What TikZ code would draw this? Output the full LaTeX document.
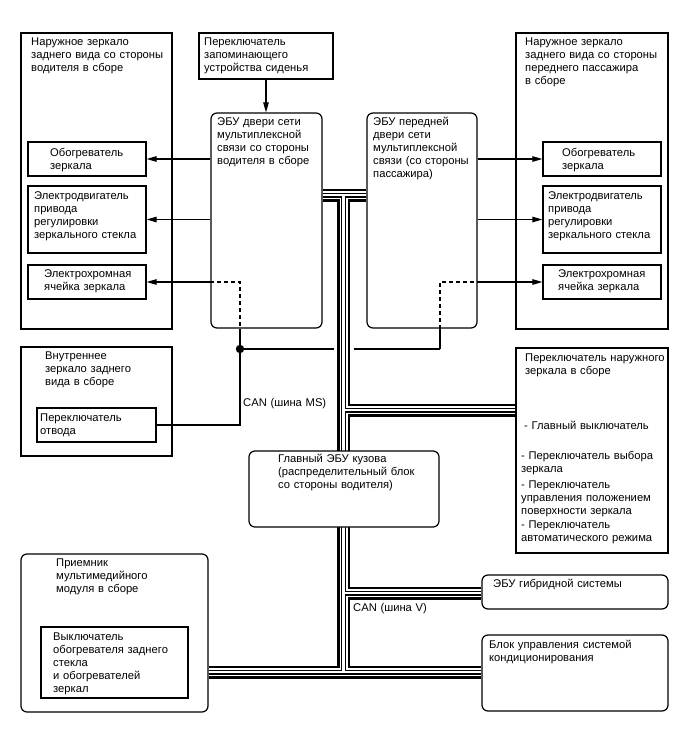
\documentclass[tikz,border=0pt]{standalone}
\usepackage{fontspec}
\setmainfont{Liberation Sans}
\usetikzlibrary{arrows.meta,fit}
\pgfdeclarelayer{bg}
\pgfsetlayers{bg,main}
\begin{document}
\begin{tikzpicture}[x=1pt,y=-1pt,
  box/.style={draw, line width=1.2pt, inner sep=0pt},
  rbox/.style={box, rounded corners=6pt},
  txt/.style={anchor=base west, inner sep=0pt, text width=200pt, align=left, font=\fontsize{11.2}{13}\selectfont},
  arr/.style={line width=1.1pt, -{Triangle[length=10pt,width=5.5pt]}},
  wire/.style={line width=1.1pt},
  dwire/.style={line width=1.1pt, dash pattern=on 4pt off 3pt}]
\useasboundingbox (0,0) rectangle (688,755);

% boxes
\node[box, fit={(21,33) (172,329)}] (drvM) {};
\node[box, fit={(199,33) (333,79)}] (seat) {};
\node[rbox, fit={(211,113) (322,328)}] (ecuL) {};
\node[box, fit={(28,142) (146,176)}] (heatL) {};
\node[box, fit={(28,186) (146,253)}] (motL) {};
\node[box, fit={(28,265) (146,299)}] (elL) {};
\node[rbox, fit={(367,113) (477,328)}] (ecuR) {};
\node[box, fit={(516,33) (668,329)}] (passM) {};
\node[box, fit={(543,142) (661,176)}] (heatR) {};
\node[box, fit={(543,186) (661,253)}] (motR) {};
\node[box, fit={(543,265) (661,299)}] (elR) {};
\node[box, fit={(21,347) (172,456)}] (inner) {};
\node[box, fit={(37,408) (156,442)}] (sw) {};
\node[rbox, fill=white, fit={(249,451) (439,527)}] (mainE) {};
\node[box, fit={(516,348) (668,553)}] (msw) {};
\node[rbox, fit={(21,554) (208,712)}] (mm) {};
\node[box, fit={(41,627) (188,698)}] (def) {};
\node[rbox, fit={(482,575) (668,609)}] (hyb) {};
\node[rbox, fit={(482,635) (668,711)}] (ac) {};

% helper coordinates
\coordinate (ty) at (0,195);
\coordinate (ry) at (0,410);
\coordinate (hy) at (0,593);
\coordinate (by) at (0,672);
\coordinate (tr) at (343.5,0);
\coordinate (bA) at (ecuL.east |- ty);
\coordinate (bB) at (ecuR.west |- ty);
\coordinate (t1) at (tr |- ty);
\coordinate (t2) at (tr |- by);
\coordinate (r1) at (tr |- ry);
\coordinate (r2) at (msw.west |- ry);
\coordinate (h1) at (tr |- hy);
\coordinate (h2) at (hyb.west |- hy);
\coordinate (m1) at (mm.east |- by);
\coordinate (m2) at (ac.west |- by);
\coordinate (jd) at (240,349);
\coordinate (jr) at (440,349);

\begin{pgfonlayer}{bg}
  \draw[dwire] (ecuL.west |- elL.east) -| (jd |- ecuL.south);
  \draw[wire] (jd |- ecuL.south) -- (jd);
  \draw[wire] (jd) -- (jr);
  \draw[wire] (jr) -- (jr |- ecuR.south);
  \draw[dwire] (jr |- ecuR.south) |- (ecuR.east |- elR.west);
  \draw[wire] (jd) |- (sw.east);
  \fill (jd) circle (4.2);
  \foreach \w/\c in {20/white,13/black,8/white,5/black,2.5/white}{
    \draw[line width=\w pt, draw=\c] (bA) -- (bB) (t1) -- (t2) (r1) -- (r2) (h1) -- (h2) (m1) -- (m2);
  }
\end{pgfonlayer}

% arrows
\draw[arr] (seat.south) -- (ecuL.north -| seat.south);
\draw[arr] (ecuL.west |- heatL.east) -- (heatL.east);
\draw[arr] (ecuL.west |- motL.east) -- (motL.east);
\draw[arr] (ecuL.west |- elL.east) -- (elL.east);
\draw[arr] (ecuR.east |- heatR.west) -- (heatR.west);
\draw[arr] (ecuR.east |- motR.west) -- (motR.west);
\draw[arr] (ecuR.east |- elR.west) -- (elR.west);

% texts
\node[txt] (tDrv) at (31,45) {Наружное зеркало\\заднего вида со стороны\\водителя в сборе};
\node[txt] (tSeat) at (204,45) {Переключатель\\запоминающего\\устройства сиденья};
\node[txt] (tEcuL) at (217,125) {ЭБУ двери сети\\мультиплексной\\связи со стороны\\водителя в сборе};
\node[txt] (tHeatL) at (50,156) {Обогреватель\\зеркала};
\node[txt] (tMotL) at (34,199) {Электродвигатель\\привода\\регулировки\\зеркального стекла};
\node[txt] (tElL) at (44,277) {Электрохромная\\ячейка зеркала};
\node[txt] (tEcuR) at (373,125) {ЭБУ передней\\двери сети\\мультиплексной\\связи (со стороны\\пассажира)};
\node[txt] (tPass) at (525,45) {Наружное зеркало\\заднего вида со стороны\\переднего пассажира\\в сборе};
\node[txt] (tHeatR) at (562,156) {Обогреватель\\зеркала};
\node[txt] (tMotR) at (548,199) {Электродвигатель\\привода\\регулировки\\зеркального стекла};
\node[txt] (tElR) at (558,277) {Электрохромная\\ячейка зеркала};
\node[txt] (tInner) at (45,359) {Внутреннее\\зеркало заднего\\вида в сборе};
\node[txt] (tSw) at (40,421) {Переключатель\\отвода};
\node[txt] (tCanMS) at (243,406) {CAN (шина MS)};
\node[txt] (tMain) at (278,462) {Главный ЭБУ кузова\\(распределительный блок\\со стороны водителя)};
\node[txt] (tMsw1) at (525,361) {Переключатель наружного\\зеркала в сборе};
\node[txt] (tMsw2) at (524,429) {- Главный выключатель};
\node[txt] (tMsw3) at (521,459) {- Переключатель выбора\\зеркала};
\node[txt] (tMsw4) at (521,488) {- Переключатель\\управления положением\\поверхности зеркала};
\node[txt] (tMsw5) at (521,528) {- Переключатель\\автоматического режима};
\node[txt] (tMM) at (56,566) {Приемник\\мультимедийного\\модуля в сборе};
\node[txt] (tDef) at (53,640) {Выключатель\\обогревателя заднего\\стекла\\и обогревателей\\зеркал};
\node[txt] (tHyb) at (493,587) {ЭБУ гибридной системы};
\node[txt] (tCanV) at (353,611) {CAN (шина V)};
\node[txt] (tAC) at (489,648) {Блок управления системой\\кондиционирования};
\end{tikzpicture}
\end{document}
